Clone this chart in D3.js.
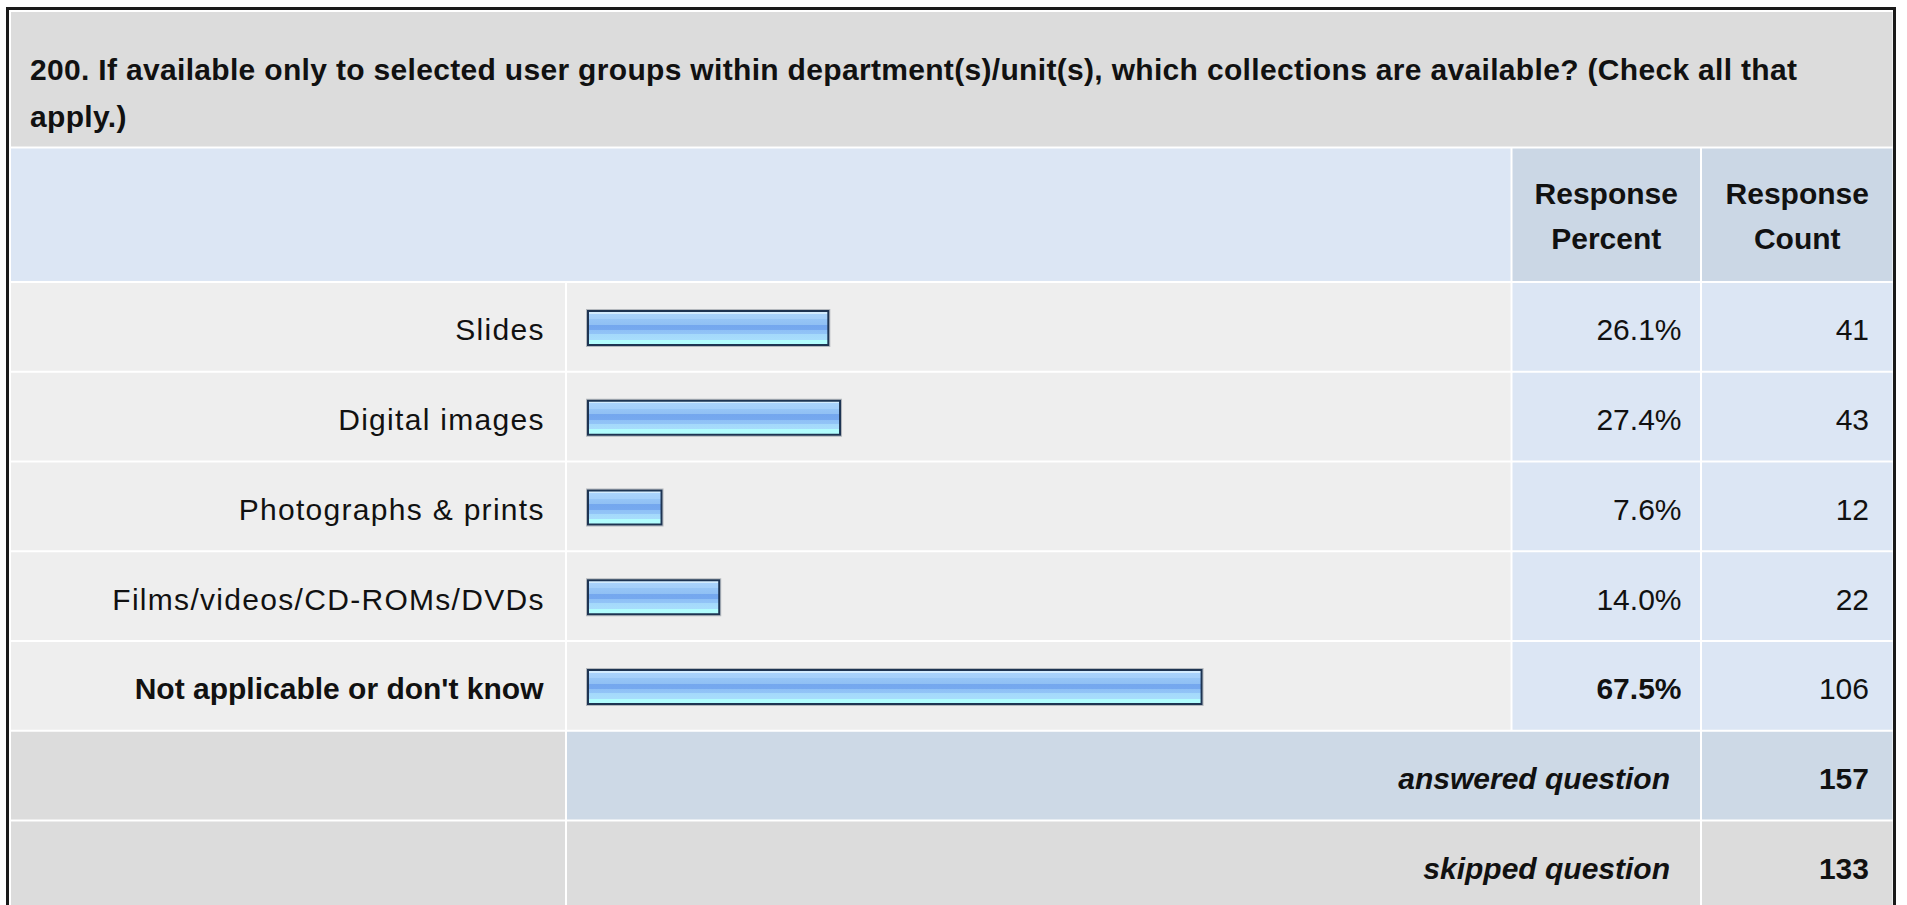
<!DOCTYPE html>
<html>
<head>
<meta charset="utf-8">
<script src="https://cdn.jsdelivr.net/npm/d3@7"></script>
<style>
  html, body { margin: 0; padding: 0; background: #ffffff; overflow: hidden; }
  svg { display: block; }
  text { font-family: "Liberation Sans", Arial, Helvetica, sans-serif; fill: #111; }
</style>
</head>
<body>
<script>
// ---- data ----
const titleLines = [
  "200. If available only to selected user groups within department(s)/unit(s), which collections are available? (Check all that",
  "apply.)"
];
const headerPercent = ["Response", "Percent"];
const headerCount = ["Response", "Count"];
const categories = ["Slides", "Digital images", "Photographs & prints", "Films/videos/CD-ROMs/DVDs", "Not applicable or don't know"];
const percents = [26.1, 27.4, 7.6, 14.0, 67.5];
const counts = [41, 43, 12, 22, 106];
const emphasizedCategory = "Not applicable or don't know";
const summaryLabels = ["answered question", "skipped question"];
const summaryValues = [157, 133];

// ---- layout ----
const W = 1907, H = 905;
const col0 = [11, 565], col1 = [567, 1510.5], col2 = [1512.5, 1700], col3 = [1702, 1892.5];
const titleTop = 12, titleBottom = 146.5;
const headTop = 148.5, headBottom = 281;
const rowStart = 283, rowPitch = 89.75, rowGap = 2;
const FS = 30;
const LS = 1.3; // extra letter spacing for regular labels

const svg = d3.select("body").append("svg").attr("width", W).attr("height", H);
svg.append("rect").attr("width", W).attr("height", H).attr("fill", "#ffffff");

const defs = svg.append("defs");
const grad = defs.append("linearGradient").attr("id", "barGrad")
  .attr("x1", 0).attr("y1", 0).attr("x2", 0).attr("y2", 1);
[
  [0.00, "#d3ecff"], [0.08, "#d3ecff"], [0.08, "#a9d3fc"], [0.24, "#a4cffa"],
  [0.24, "#96c5f6"], [0.40, "#90c0f4"], [0.40, "#74a7ee"], [0.56, "#76a9ef"],
  [0.56, "#8ec0f6"], [0.68, "#92c4f7"], [0.68, "#a4d9fb"], [0.84, "#a8ddfc"],
  [0.84, "#b2fdfe"], [1.00, "#b2fefe"]
].forEach(([o, c]) => grad.append("stop").attr("offset", o).attr("stop-color", c));

// row scale (band) for the data rows + summary rows
const allRowKeys = categories.concat(summaryLabels);
const yRow = d3.scaleBand().domain(allRowKeys)
  .range([rowStart, rowStart + rowPitch * allRowKeys.length]).paddingInner(0);
const rowH = yRow.bandwidth() - rowGap;

// bar scale
const x = d3.scaleLinear().domain([0, 100]).range([593, 1494.6]);
const barLeft = 587;

// ---- title ----
svg.append("rect").attr("x", col0[0]).attr("y", titleTop)
  .attr("width", col3[1] - col0[0]).attr("height", titleBottom - titleTop).attr("fill", "#dcdcdc");
const TFS = 30;
const titleSel = svg.selectAll("text.title").data(titleLines).enter().append("text")
  .attr("class", "title")
  .attr("x", 30).attr("y", (d, i) => 80 + i * 47)
  .attr("font-weight", "bold").attr("font-size", TFS)
  .text(d => d);
// fit first line width to reference width with letter spacing
const natural = titleSel.nodes()[0].getComputedTextLength();
const tls = (1767 - natural) / (titleLines[0].length - 1);
titleSel.style("letter-spacing", tls + "px");

// ---- header ----
svg.append("rect").attr("x", col0[0]).attr("y", headTop)
  .attr("width", col1[1] - col0[0]).attr("height", headBottom - headTop).attr("fill", "#dce6f4");
[[col2, headerPercent], [col3, headerCount]].forEach(([c, lines]) => {
  svg.append("rect").attr("x", c[0]).attr("y", headTop)
    .attr("width", c[1] - c[0]).attr("height", headBottom - headTop).attr("fill", "#cbd7e5");
  svg.selectAll(null).data(lines).enter().append("text")
    .attr("x", (c[0] + c[1]) / 2).attr("y", (d, i) => 204 + i * 45)
    .attr("text-anchor", "middle").attr("font-weight", "bold").attr("font-size", FS)
    .text(d => d);
});

// ---- data rows ----
const fmtPct = v => d3.format(".1f")(v) + "%";
const rows = categories.map((c, i) => ({ cat: c, pct: percents[i], cnt: counts[i], bold: c === emphasizedCategory }));
const g = svg.selectAll("g.row").data(rows).enter().append("g").attr("class", "row")
  .attr("transform", d => `translate(0,${yRow(d.cat)})`);

g.append("rect").attr("x", col0[0]).attr("width", col0[1] - col0[0]).attr("height", rowH).attr("fill", "#eeeeee");
g.append("rect").attr("x", col1[0]).attr("width", col1[1] - col1[0]).attr("height", rowH).attr("fill", "#eeeeee");
g.append("rect").attr("x", col2[0]).attr("width", col2[1] - col2[0]).attr("height", rowH).attr("fill", "#dce6f4");
g.append("rect").attr("x", col3[0]).attr("width", col3[1] - col3[0]).attr("height", rowH).attr("fill", "#dce6f4");

const baseOff = rowH / 2 + 13.5;
g.append("text").attr("x", d => d.bold ? 543.5 : 543.5 + LS).attr("y", baseOff).attr("text-anchor", "end")
  .style("letter-spacing", d => d.bold ? "0px" : LS + "px")
  .attr("font-size", FS).attr("font-weight", d => d.bold ? "bold" : "normal").text(d => d.cat);
g.append("text").attr("x", 1681.5).attr("y", baseOff).attr("text-anchor", "end")
  .attr("font-size", FS).attr("font-weight", d => d.bold ? "bold" : "normal").text(d => fmtPct(d.pct));
g.append("text").attr("x", 1869).attr("y", baseOff).attr("text-anchor", "end")
  .attr("font-size", FS).text(d => d.cnt);

// bars
const barTop = 27, barH = 36;
g.append("rect").attr("class", "shadow")
  .attr("x", barLeft - 0.5).attr("y", barTop - 0.5)
  .attr("width", d => x(d.pct) + 1 - barLeft + 1).attr("height", barH + 1)
  .attr("fill", "none").attr("stroke", "#8d949c").attr("stroke-opacity", 0.6).attr("stroke-width", 1);
g.append("rect").attr("class", "bar")
  .attr("x", barLeft + 1).attr("y", barTop + 1)
  .attr("width", d => x(d.pct) + 1 - barLeft - 2).attr("height", barH - 2)
  .attr("fill", "url(#barGrad)").attr("stroke", "#1e3452").attr("stroke-width", 2);

// ---- summary rows ----
summaryLabels.forEach((lab, i) => {
  const top = yRow(lab);
  const mid = i === 0 ? "#cdd9e6" : "#dcdcdc";
  svg.append("rect").attr("x", col0[0]).attr("y", top).attr("width", col0[1] - col0[0]).attr("height", rowH).attr("fill", "#dcdcdc");
  svg.append("rect").attr("x", col1[0]).attr("y", top).attr("width", col2[1] - col1[0]).attr("height", rowH).attr("fill", mid);
  svg.append("rect").attr("x", col3[0]).attr("y", top).attr("width", col3[1] - col3[0]).attr("height", rowH).attr("fill", mid);
  svg.append("text").attr("x", 1670).attr("y", top + baseOff).attr("text-anchor", "end")
    .attr("font-size", FS).attr("font-weight", "bold").attr("font-style", "italic").text(lab);
  svg.append("text").attr("x", 1869).attr("y", top + baseOff).attr("text-anchor", "end")
    .attr("font-size", FS).attr("font-weight", "bold").text(summaryValues[i]);
});

// ---- outer border ----
svg.append("rect").attr("x", 7.5).attr("y", 8.5).attr("width", 1887).attr("height", 1000)
  .attr("fill", "none").attr("stroke", "#1a1a1a").attr("stroke-width", 3);
</script>
</body>
</html>
